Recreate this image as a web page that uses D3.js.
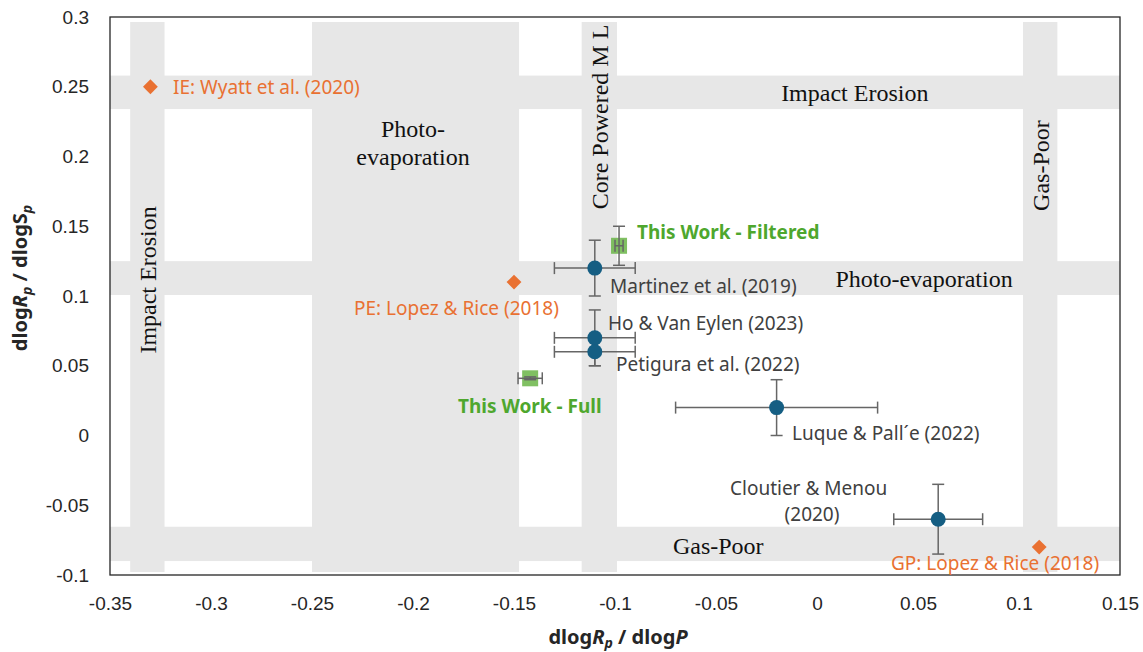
<!DOCTYPE html>
<html>
<head>
<meta charset="utf-8">
<script src="https://cdn.jsdelivr.net/npm/d3@7"></script>
<style>
  body { margin: 0; background: #fff; }
  svg { display: block; }
  .tick text { font-family: "Liberation Sans", Arial, sans-serif; font-size: 19px; fill: #262626; }
  .band-label { font-family: "Liberation Serif", "Times New Roman", serif; font-size: 24px; fill: #111; }
  .pt-label { font-family: "Noto Sans", sans-serif; font-size: 19px; fill: #404040; }
</style>
</head>
<body>
<svg id="chart" width="1143" height="652"></svg>
<script>
// axis ticks
var xTicks = [-0.35, -0.3, -0.25, -0.2, -0.15, -0.1, -0.05, 0, 0.05, 0.1, 0.15];
var yTicks = [-0.1, -0.05, 0, 0.05, 0.1, 0.15, 0.2, 0.25, 0.3];

// mechanism bands (grey stripes)
var vBands = [
  { name: 'Impact Erosion', x0: -0.340, x1: -0.323 },
  { name: 'Photo-evaporation', x0: -0.250, x1: -0.1475 },
  { name: 'Core Powered M L', x0: -0.1165, x1: -0.099 },
  { name: 'Gas-Poor', x0: 0.102, x1: 0.119 }
];
var hBands = [
  { name: 'Impact Erosion', y0: 0.234, y1: 0.258 },
  { name: 'Photo-evaporation', y0: 0.1007, y1: 0.125 },
  { name: 'Gas-Poor', y0: -0.090, y1: -0.0654 }
];

// literature measurements (blue)
var litNames = ['Martinez et al. (2019)', 'Ho & Van Eylen (2023)', 'Petigura et al. (2022)', 'Luque & Pall\u00b4e (2022)', 'Cloutier & Menou'];
var litX = [-0.11, -0.11, -0.11, -0.02, 0.06];
var litY = [0.12, 0.07, 0.06, 0.02, -0.06];
var litXErr = [0.02, 0.02, 0.02, 0.05, 0.022];
var litYErr = [0.02, 0.02, 0.01, 0.02, 0.025];

// this work (green)
var workNames = ['This Work - Filtered', 'This Work - Full'];
var workX = [-0.098, -0.142];
var workY = [0.136, 0.041];
var workXErr = [0.002, 0.006];
var workYErr = [0.014, 0.001];

// model predictions (orange)
var modelNames = ['IE: Wyatt et al. (2020)', 'PE: Lopez & Rice (2018)', 'GP: Lopez & Rice (2018)'];
var modelX = [-0.33, -0.15, 0.11];
var modelY = [0.25, 0.11, -0.08];

var svg = d3.select('#chart'),
    m = { left: 110, top: 17, right: 23, bottom: 77 },
    W = 1143 - m.left - m.right,
    H = 652 - m.top - m.bottom;

var x = d3.scaleLinear().domain([-0.35, 0.15]).range([0, W]);
var y = d3.scaleLinear().domain([-0.1, 0.3]).range([H, 0]);

var g = svg.append('g').attr('transform', 'translate(' + m.left + ',' + m.top + ')');

// bands
var bandFill = '#e7e7e7';
g.selectAll('.vband').data(vBands).enter().append('rect')
  .attr('x', d => x(d.x0))
  .attr('width', d => x(d.x1) - x(d.x0))
  .attr('y', 5).attr('height', H - 8)
  .attr('fill', bandFill);
g.selectAll('.hband').data(hBands).enter().append('rect')
  .attr('x', 0).attr('width', W)
  .attr('y', d => y(d.y1))
  .attr('height', d => y(d.y0) - y(d.y1))
  .attr('fill', bandFill);

// band labels
function vLabel(text, cx, cy) {
  g.append('text').attr('class', 'band-label')
    .attr('transform', 'translate(' + cx + ',' + cy + ') rotate(-90)')
    .attr('text-anchor', 'middle').attr('dy', '0.35em').text(text);
}
function hLabel(text, cx, cy) {
  g.append('text').attr('class', 'band-label').attr('text-anchor', 'middle')
    .attr('x', cx).attr('y', cy).attr('dy', '0.35em').text(text);
}
vLabel('Impact Erosion', x(-0.3316), y(0.1115));
vLabel('Core Powered M L', x(-0.1077), y(0.2283));
vLabel('Gas-Poor', x(0.1105), y(0.1935));

hLabel('Photo-', x(-0.2), y(0.2197));
hLabel('evaporation', x(-0.2), y(0.1996));
hLabel('Impact Erosion', x(0.0187), y(0.2455));
hLabel('Photo-evaporation', x(0.053), y(0.1122));
hLabel('Gas-Poor', x(-0.0489), y(-0.0792));

// frame
g.append('rect').attr('width', W).attr('height', H)
  .attr('fill', 'none').attr('stroke', '#262626').attr('stroke-width', 1.3);

// axes
var xAxis = g.append('g').attr('transform', 'translate(0,' + H + ')')
  .call(d3.axisBottom(x).tickValues(xTicks).tickSize(0).tickPadding(21).tickFormat(d => String(d)));
var yAxis = g.append('g')
  .call(d3.axisLeft(y).tickValues(yTicks).tickSize(0).tickPadding(21).tickFormat(d => String(d)));
xAxis.select('.domain').remove();
yAxis.select('.domain').remove();
xAxis.selectAll('.tick text').attr('dy', '0.35em').attr('y', 28);

// axis titles
var tFont = '"Noto Sans", sans-serif';
var xt = svg.append('text').attr('x', m.left + W / 2 + 3).attr('y', 637).attr('dy', '0.35em')
  .attr('text-anchor', 'middle').attr('font-family', tFont)
  .attr('font-size', 20).attr('font-weight', 'bold').attr('fill', '#262626');
xt.append('tspan').text('dlog');
xt.append('tspan').attr('font-style', 'italic').text('R');
xt.append('tspan').attr('font-style', 'italic').attr('font-size', 14).attr('dy', 4).text('p');
xt.append('tspan').attr('dy', -4).text(' / dlog');
xt.append('tspan').attr('font-style', 'italic').text('P');

var yt = svg.append('text').attr('transform', 'translate(20,278) rotate(-90)').attr('dy', '0.35em')
  .attr('text-anchor', 'middle').attr('font-family', tFont)
  .attr('font-size', 20).attr('font-weight', 'bold').attr('fill', '#262626');
yt.append('tspan').text('dlog');
yt.append('tspan').attr('font-style', 'italic').text('R');
yt.append('tspan').attr('font-style', 'italic').attr('font-size', 14).attr('dy', 5).text('p');
yt.append('tspan').attr('dy', -5).text(' / dlog');
yt.append('tspan').text('S');
yt.append('tspan').attr('font-style', 'italic').attr('font-size', 14).attr('dy', 5).text('p');

// error bars
function errBars(xs, ys, xe, ye, cap) {
  var eb = g.append('g').attr('stroke', '#666').attr('stroke-width', 1.5).attr('fill', 'none');
  xs.forEach(function (xv, i) {
    var px = x(xv), py = y(ys[i]);
    var xl = x(xv - xe[i]), xr = x(xv + xe[i]);
    var yt2 = y(ys[i] + ye[i]), yb = y(ys[i] - ye[i]);
    eb.append('line').attr('x1', xl).attr('x2', xr).attr('y1', py).attr('y2', py);
    eb.append('line').attr('x1', xl).attr('x2', xl).attr('y1', py - cap).attr('y2', py + cap);
    eb.append('line').attr('x1', xr).attr('x2', xr).attr('y1', py - cap).attr('y2', py + cap);
    eb.append('line').attr('x1', px).attr('x2', px).attr('y1', yt2).attr('y2', yb);
    eb.append('line').attr('x1', px - cap).attr('x2', px + cap).attr('y1', yt2).attr('y2', yt2);
    eb.append('line').attr('x1', px - cap).attr('x2', px + cap).attr('y1', yb).attr('y2', yb);
  });
}

// this work squares (drawn under their error bars)
g.selectAll('.work').data(workX).enter().append('rect')
  .attr('x', (d, i) => x(d) - 8).attr('y', (d, i) => y(workY[i]) - 8)
  .attr('width', 16).attr('height', 16)
  .attr('fill', '#6ab547').attr('fill-opacity', 0.85);
errBars(workX, workY, workXErr, workYErr, 6);

// literature points
errBars(litX, litY, litXErr, litYErr, 6);
g.selectAll('.lit').data(litX).enter().append('circle')
  .attr('cx', d => x(d)).attr('cy', (d, i) => y(litY[i]))
  .attr('r', 7.5).attr('fill', '#155e83');

// model diamonds
g.selectAll('.model').data(modelX).enter().append('path')
  .attr('d', d3.symbol().type(d3.symbolDiamond2).size(140))
  .attr('transform', (d, i) => 'translate(' + x(d) + ',' + y(modelY[i]) + ')')
  .attr('fill', '#e97132');

// point labels (page coords minus margin)
var litLabelPos = [[500, 269], [498, 306], [506, 347], [682, 416], [620, 471]];
g.selectAll('.lit-label').data(litNames).enter().append('text')
  .attr('class', 'pt-label')
  .attr('x', (d, i) => litLabelPos[i][0]).attr('y', (d, i) => litLabelPos[i][1])
  .attr('dy', '0.35em').text(d => d);
g.append('text').attr('class', 'pt-label').attr('text-anchor', 'middle')
  .attr('x', 702).attr('y', 497).attr('dy', '0.35em').text('(2020)');

var workLabelPos = [[527, 215], [348, 389]];
g.selectAll('.work-label').data(workNames).enter().append('text')
  .attr('x', (d, i) => workLabelPos[i][0]).attr('y', (d, i) => workLabelPos[i][1])
  .attr('dy', '0.35em').attr('font-family', '"Noto Sans", sans-serif')
  .attr('font-size', 19).attr('font-weight', 'bold').attr('fill', '#4ea72e')
  .text(d => d);

var modelLabelPos = [[63, 70], [244, 291], [781, 546]];
g.selectAll('.model-label').data(modelNames).enter().append('text')
  .attr('x', (d, i) => modelLabelPos[i][0]).attr('y', (d, i) => modelLabelPos[i][1])
  .attr('dy', '0.35em').attr('font-family', '"Noto Sans", sans-serif')
  .attr('font-size', 19).attr('fill', '#e97132')
  .text(d => d);
</script>
</body>
</html>
